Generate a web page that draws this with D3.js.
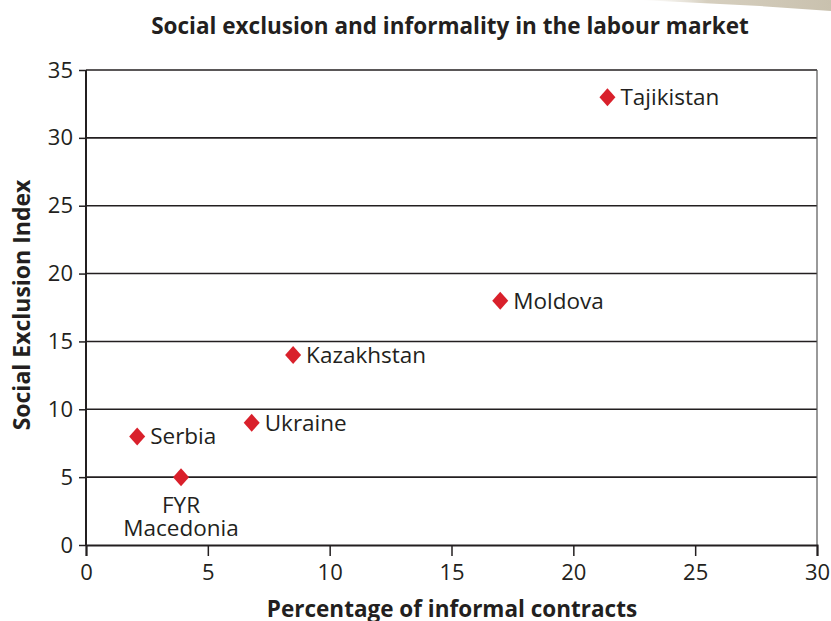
<!DOCTYPE html>
<html>
<head>
<meta charset="utf-8">
<script src="https://cdn.jsdelivr.net/npm/d3@7"></script>
<style>
  html, body { margin: 0; padding: 0; background: #fff; }
  svg { display: block; }
  text { font-family: "Open Sans", "DejaVu Sans", sans-serif; fill: #231f20; }
</style>
</head>
<body>
<svg id="chart" width="831" height="621"></svg>
<script>
// Countries, informal-contract share (%) and social exclusion index
const countries = ["Tajikistan", "Moldova", "Kazakhstan", "Ukraine", "Serbia", "FYR Macedonia"];
const informalShare = [21.4, 17, 8.5, 6.8, 2.1, 3.9];
const exclusionIndex = [33, 18, 14, 9, 8, 5];
const xTicks = [0, 5, 10, 15, 20, 25, 30];
const yTicks = [0, 5, 10, 15, 20, 25, 30, 35];

const W = 831, H = 621;
const margin = { top: 70, right: 14, bottom: 76, left: 86 };
const svg = d3.select("#chart");
const ink = "#231f20";

// decorative band in the top-right corner
const band = svg.append("defs").append("linearGradient")
  .attr("id", "band").attr("x1", "0").attr("x2", "1");
band.append("stop").attr("offset", "0").attr("stop-color", "#e8e3d8").attr("stop-opacity", 0);
band.append("stop").attr("offset", "0.35").attr("stop-color", "#d6cfbf");
band.append("stop").attr("offset", "1").attr("stop-color", "#c9c1ae");
svg.append("path")
  .attr("d", `M640,0 L${W},0 L${W},11 L760,6 Z`)
  .attr("fill", "url(#band)");

const x = d3.scaleLinear().domain([0, 30]).range([margin.left, W - margin.right]);
const y = d3.scaleLinear().domain([0, 35]).range([H - margin.bottom, margin.top]);

// horizontal gridlines
svg.append("g").selectAll("line").data(yTicks.filter(d => d > 0)).join("line")
  .attr("x1", x(0)).attr("x2", x(30))
  .attr("y1", d => y(d)).attr("y2", d => y(d))
  .attr("stroke", ink).attr("stroke-width", 1.6);

// right frame edge
svg.append("line")
  .attr("x1", x(30)).attr("x2", x(30)).attr("y1", y(35)).attr("y2", y(0))
  .attr("stroke", "#555").attr("stroke-width", 1.2);

// axes
const xAxis = svg.append("g")
  .attr("transform", `translate(0,${y(0)})`)
  .call(d3.axisBottom(x).tickValues(xTicks).tickSize(11).tickPadding(5).tickFormat(d3.format("d")));
const yAxis = svg.append("g")
  .attr("transform", `translate(${x(0)},0)`)
  .call(d3.axisLeft(y).tickValues(yTicks).tickSize(7).tickPadding(6).tickFormat(d3.format("d")));
[xAxis, yAxis].forEach(g => {
  g.select(".domain").attr("stroke", ink).attr("stroke-width", 2);
  g.selectAll(".tick line").attr("stroke", ink).attr("stroke-width", 1.5);
  g.selectAll(".tick text").attr("font-size", 22).attr("fill", ink)
    .style("font-family", '"Open Sans", sans-serif');
});
yAxis.select(".domain").attr("d", `M0,${y(35)}V${y(0)}`);
xAxis.selectAll(".tick text").attr("dy", "0.85em");

// diamond markers
const pts = countries.map((c, i) => ({ name: c, x: informalShare[i], y: exclusionIndex[i] }));
svg.append("g").selectAll("path").data(pts).join("path")
  .attr("transform", d => `translate(${x(d.x)},${y(d.y)})`)
  .attr("d", "M0,-9L8,0L0,9L-8,0Z")
  .attr("fill", "#d9202b");

// point labels
const lab = svg.append("g").attr("font-size", 22.5);
pts.filter(d => d.name !== "FYR Macedonia").forEach(d => {
  lab.append("text")
    .attr("x", x(d.x) + 13).attr("y", y(d.y) + 8)
    .text(d.name);
});
const mk = pts.find(d => d.name === "FYR Macedonia");
lab.append("text").attr("text-anchor", "middle")
  .attr("x", x(mk.x)).attr("y", y(mk.y) + 36).text("FYR");
lab.append("text").attr("text-anchor", "middle")
  .attr("x", x(mk.x)).attr("y", y(mk.y) + 59).text("Macedonia");

// titles
svg.append("text")
  .attr("x", 450).attr("y", 34).attr("text-anchor", "middle")
  .attr("font-size", 22.5).attr("font-weight", "bold")
  .text("Social exclusion and informality in the labour market");
svg.append("text")
  .attr("x", 452).attr("y", 617).attr("text-anchor", "middle")
  .attr("font-size", 22.5).attr("font-weight", "bold")
  .text("Percentage of informal contracts");
svg.append("text")
  .attr("transform", "translate(30,305) rotate(-90)")
  .attr("text-anchor", "middle")
  .attr("font-size", 23).attr("font-weight", "bold")
  .text("Social Exclusion Index");
</script>
</body>
</html>
